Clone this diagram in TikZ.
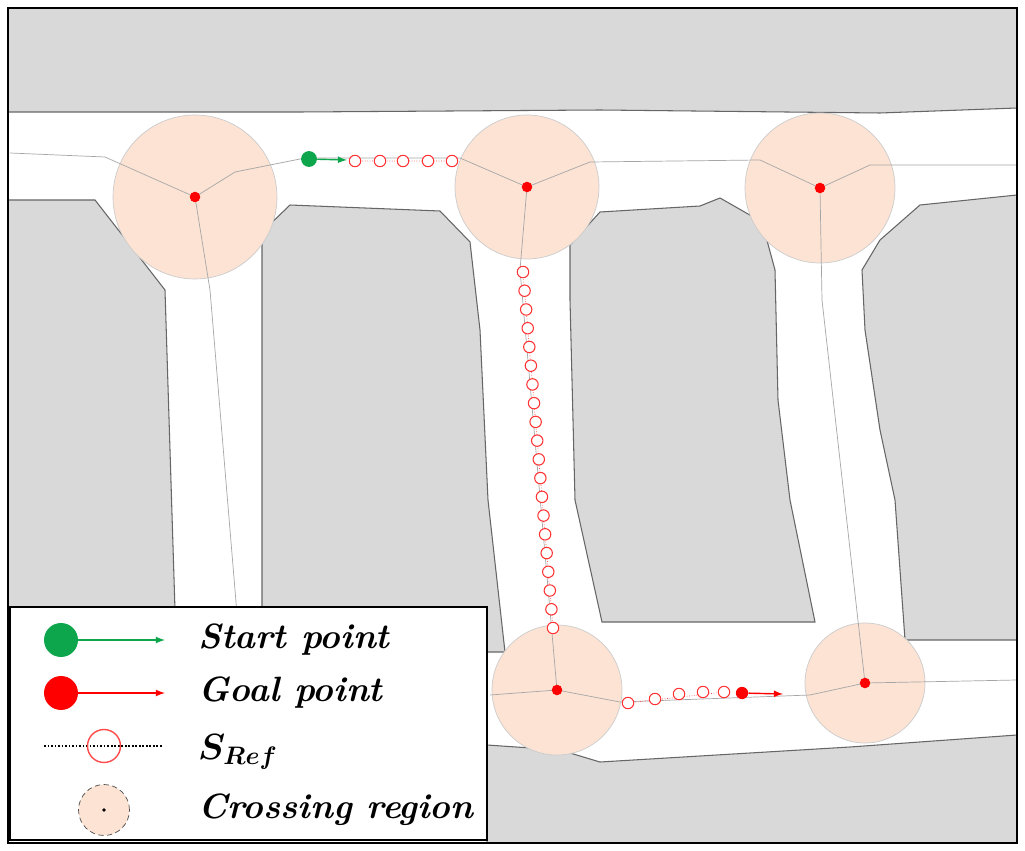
\documentclass[tikz,border=0pt]{standalone}
\usepackage{amsmath}
\usepackage{bm}
\definecolor{obst}{rgb}{0.85,0.85,0.85}
\definecolor{cross}{rgb}{0.99,0.89,0.83}
\definecolor{stc}{rgb}{0.05,0.65,0.3}
\begin{document}
\begin{tikzpicture}[x=0.02cm, y=-0.02cm,
  block/.style={fill=obst, draw=gray!80!black, line width=0.6pt},
  region/.style={circle, fill=cross, draw=gray!40, minimum size=#1, inner sep=0pt},
  graph/.style={draw=gray!70, line width=0.4pt},
  ref/.style={circle, draw=red!80, line width=0.6pt, fill=white, minimum size=6.5pt, inner sep=0pt},
  goal/.style={circle, fill=red, minimum size=6pt, inner sep=0pt},
  legtext/.style={anchor=west, font=\fontsize{20}{24}\selectfont\bfseries\itshape}]

  \useasboundingbox (0,0) rectangle (1025,851);
  \fill[white] (8,8) rectangle (1017,843);

  % obstacles
  \draw[block] (8,8) -- (1017,8) -- (1017,108) -- (880,113) -- (600,110) -- (300,112) -- (8,112) -- cycle;
  \draw[block] (8,200) -- (95,200) -- (165,290) -- (175,610) -- (8,610) -- cycle;
  \draw[block] (262,232) -- (290,205) -- (440,211) -- (470,242) -- (480,330) -- (488,500) -- (505,652) -- (262,652) -- cycle;
  \draw[block] (570,245) -- (600,212) -- (700,206) -- (720,198) -- (762,222) -- (775,270) -- (778,400) -- (790,500) -- (815,622) -- (602,622) -- (575,500) -- (570,300) -- cycle;
  \draw[block] (1017,195) -- (920,205) -- (880,240) -- (862,270) -- (865,330) -- (880,430) -- (895,500) -- (905,640) -- (1017,640) -- cycle;
  \draw[block] (487,745) -- (560,750) -- (600,762) -- (850,747) -- (1017,735) -- (1017,843) -- (487,843) -- cycle;

  % crossing regions
  \node[region=3.28cm] (c1) at (195,197) {};
  \node[region=2.88cm] (c2) at (527,187) {};
  \node[region=3cm] (c3) at (820,188) {};
  \node[region=2.6cm] (c4) at (557,690) {};
  \node[region=2.4cm] (c5) at (865,683) {};

  % road graph
  \draw[graph] (10,153) -- (105,157) -- (c1.center) -- (235,172) -- (305,158) -- (460,158) -- (c2.center);
  \draw[graph] (c1.center) -- (210,290) -- (240,650);
  \draw[graph] (c2.center) -- (590,162) -- (760,160) -- (c3.center) -- (870,165) -- (1017,165);
  \draw[graph] (c2.center) -- (520,270) -- (c4.center);
  \draw[graph] (c3.center) -- (822,300) -- (c5.center);
  \draw[graph] (490,695) -- (c4.center) -- (620,702) -- (810,695) -- (c5.center) -- (1017,680);

  % reference path
  \draw[red!70, densely dotted, line width=0.4pt] (355,161) -- (452,161) (523,272) -- (553,628) (628,703) -- (724,692);
  \foreach \x in {355,380,403,428,452} \node[ref] at (\x,161) {};
  \foreach \i in {0,...,19} \node[ref] at ({523+30*\i/19},{272+356*\i/19}) {};
  \foreach \x/\y in {628/703,655/699,679/694,703/692,724/692} \node[ref] at (\x,\y) {};

  \foreach \c in {c1,c2,c3,c4,c5} \node[goal] at (\c.center) {};

  % start and goal
  \node[circle, fill=stc, minimum size=9pt, inner sep=0pt] (start) at (309,159) {};
  \draw[->, >=latex, stc, line width=0.8pt] (start) -- (347,160);
  \node[goal, minimum size=7pt] (goalpt) at (742,693) {};
  \draw[->, >=latex, red, line width=0.8pt] (goalpt) -- (783,694);

  % legend
  \draw[line width=1.2pt, fill=white] (10,607) rectangle (487,840);
  \node[circle, fill=stc, minimum size=0.68cm, inner sep=0pt] (lstart) at (61,640) {};
  \draw[->, >=latex, stc, line width=0.8pt] (lstart) -- (165,640);
  \node[legtext] at (192,640) {Start point};
  \node[circle, fill=red, minimum size=0.68cm, inner sep=0pt] (lgoal) at (61,693) {};
  \draw[->, >=latex, red, line width=0.8pt] (lgoal) -- (165,693);
  \node[legtext] at (192,693) {Goal point};
  \draw[densely dotted, line width=1pt] (44,746) -- (163,746);
  \node[circle, draw=red!70, line width=0.8pt, minimum size=0.66cm] at (104,746) {};
  \node[legtext] at (192,752) {$\bm{S_{Ref}}$};
  \node[circle, fill=cross, draw=black!70, densely dashed, minimum size=1.02cm] (lcross) at (104,810) {};
  \fill[black] (lcross.center) circle (1pt);
  \node[legtext] at (192,810) {Crossing region};

  \draw[line width=1.2pt] (8,8) rectangle (1017,843);
\end{tikzpicture}
\end{document}
